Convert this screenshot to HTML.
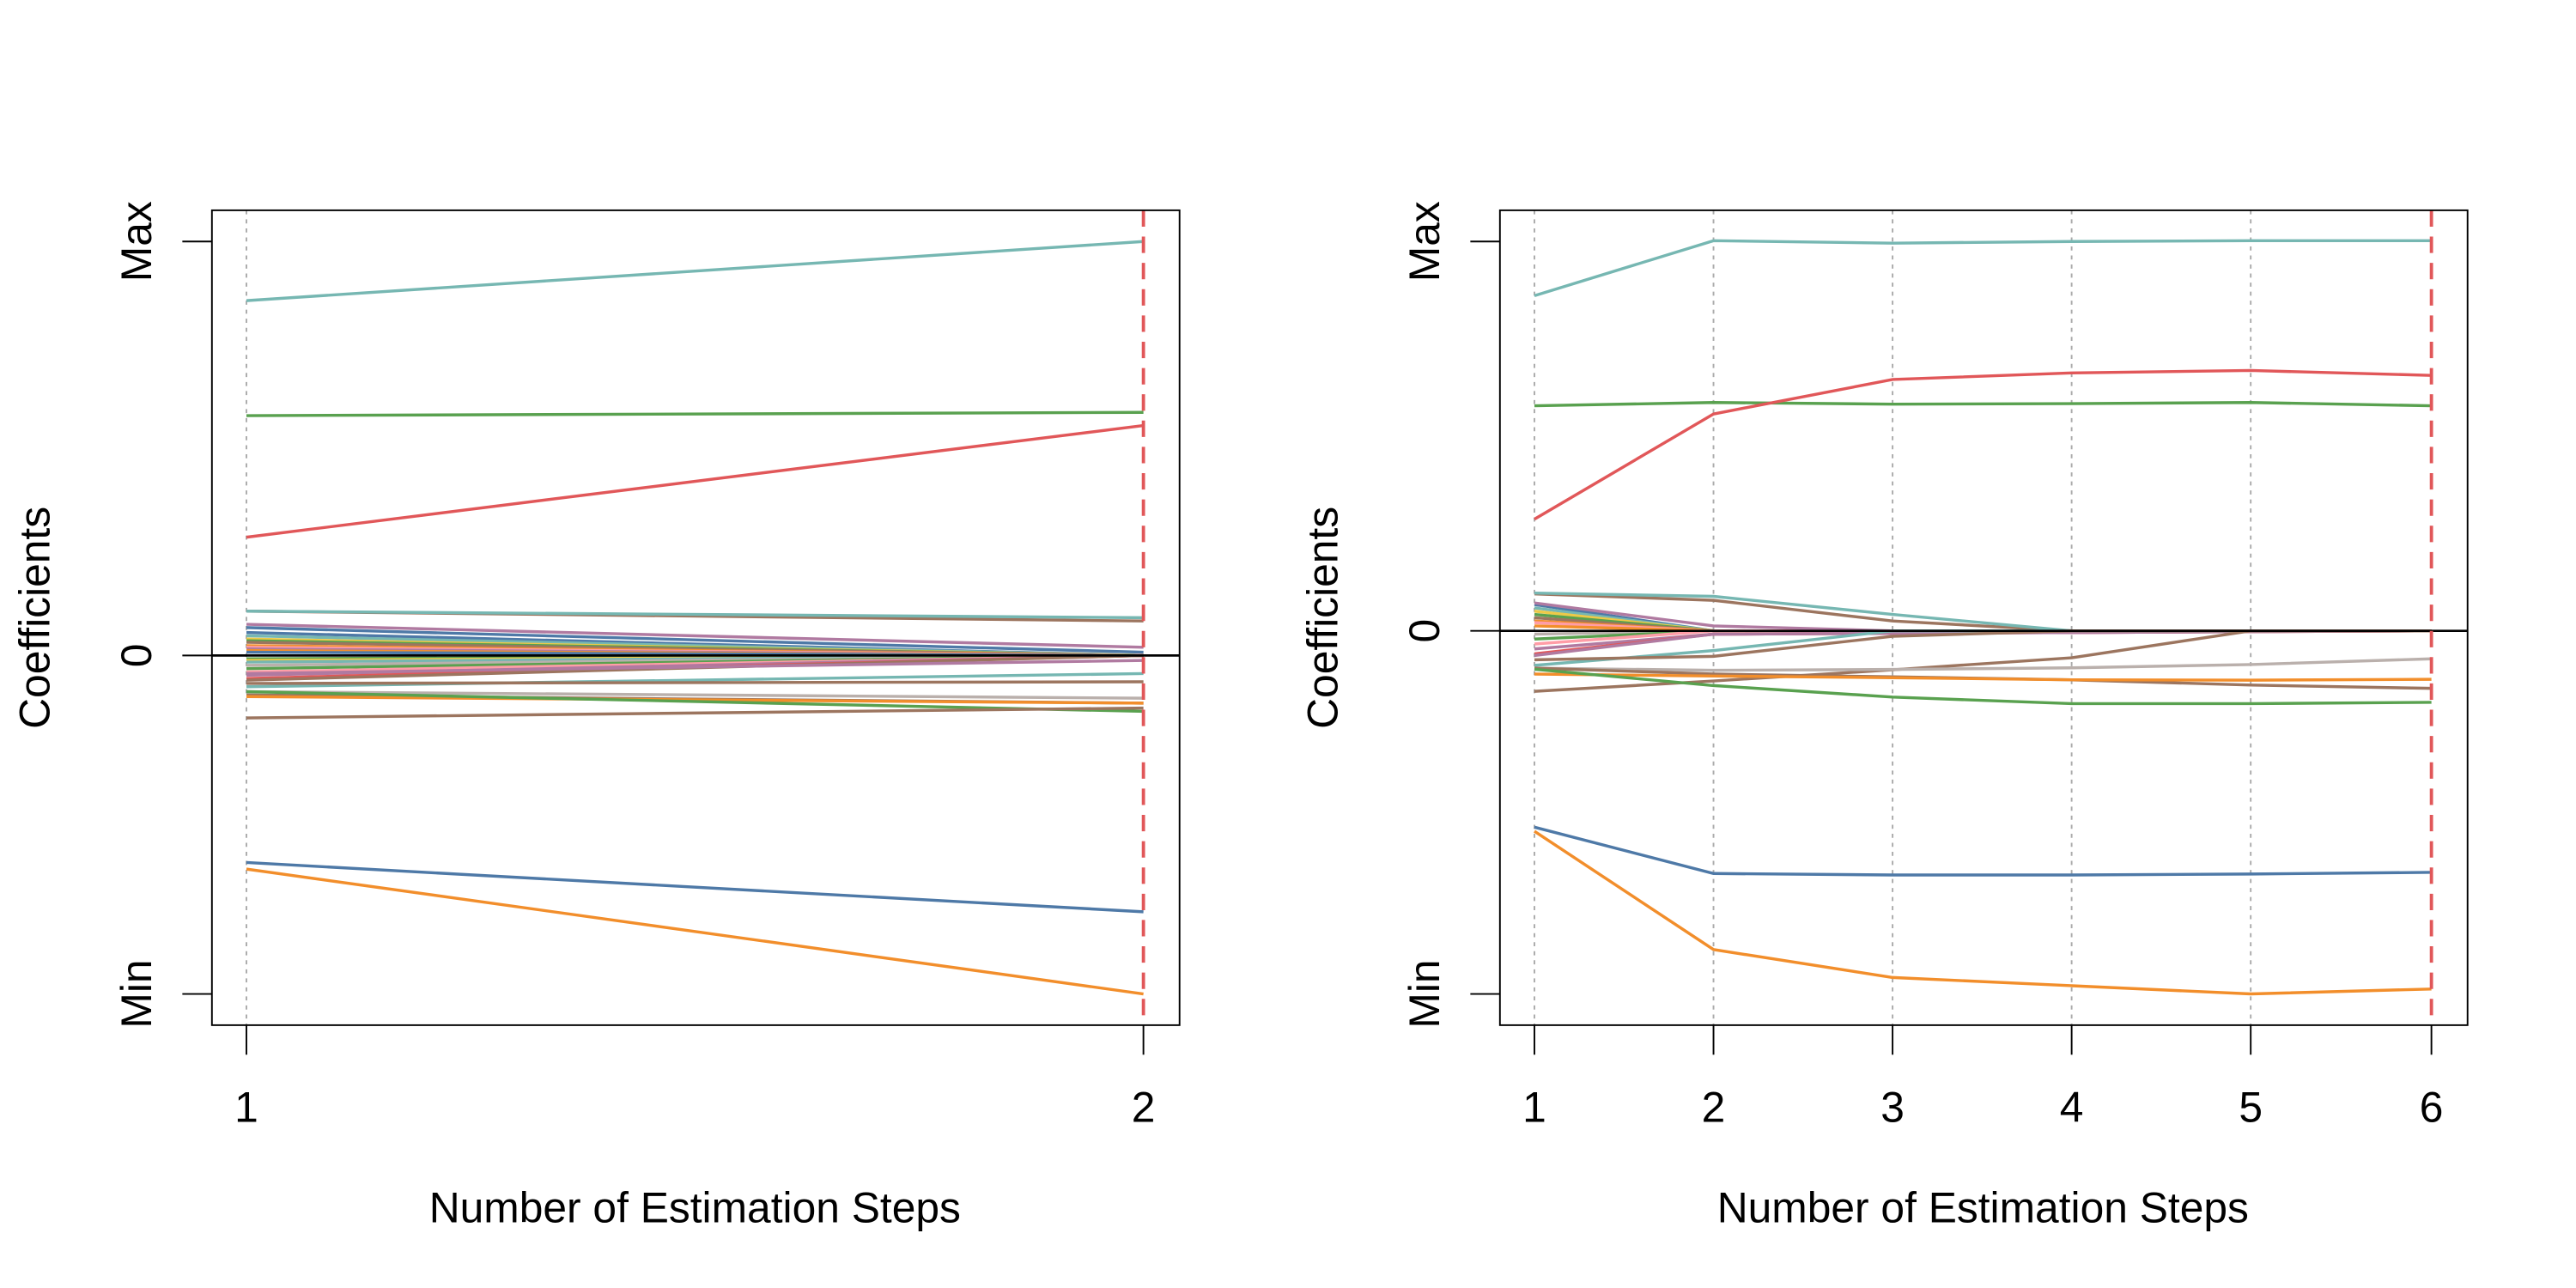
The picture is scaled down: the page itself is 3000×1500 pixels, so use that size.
<!DOCTYPE html>
<html><head><meta charset="utf-8"><style>
html,body{margin:0;padding:0;background:#fff;}
svg{display:block;}
text{font-family:"Liberation Sans",sans-serif;fill:#000;}
</style></head><body>
<svg width="3000" height="1500" viewBox="0 0 1568 784" xmlns="http://www.w3.org/2000/svg">
<!-- LEFT PANEL -->
<g fill="none" stroke-width="1.8">
<line x1="150" y1="128" x2="150" y2="624" stroke="#aaa" stroke-width="1" stroke-dasharray="2.5,3"/>
<g>
<line x1="150" y1="385" x2="696" y2="399" stroke="#4e79a7"/>
<line x1="150" y1="387" x2="696" y2="399" stroke="#76b7b2"/>
<line x1="150" y1="389" x2="696" y2="399" stroke="#edc948"/>
<line x1="150" y1="390" x2="696" y2="399" stroke="#59a14f"/>
<line x1="150" y1="391" x2="696" y2="399" stroke="#9c755f"/>
<line x1="150" y1="393" x2="696" y2="399" stroke="#f28e2b"/>
<line x1="150" y1="394" x2="696" y2="399" stroke="#ff9da7"/>
<line x1="150" y1="395" x2="696" y2="399" stroke="#b07aa1"/>
<line x1="150" y1="396" x2="696" y2="399" stroke="#f28e2b"/>
<line x1="150" y1="397" x2="696" y2="399" stroke="#4e79a7"/>
<line x1="150" y1="401" x2="696" y2="399" stroke="#59a14f"/>
<line x1="150" y1="402" x2="696" y2="399" stroke="#edc948"/>
<line x1="150" y1="403" x2="696" y2="399" stroke="#76b7b2"/>
<line x1="150" y1="405" x2="696" y2="399" stroke="#bab0ac"/>
<line x1="150" y1="407" x2="696" y2="399" stroke="#59a14f"/>
<line x1="150" y1="409" x2="696" y2="399" stroke="#ff9da7"/>
<line x1="150" y1="411" x2="696" y2="399" stroke="#b07aa1"/>
<line x1="150" y1="413" x2="696" y2="399" stroke="#e15759"/>
<line x1="150" y1="414" x2="696" y2="399" stroke="#9c755f"/>
<line x1="150" y1="410" x2="696" y2="402" stroke="#b07aa1"/>
<line x1="150" y1="372" x2="696" y2="378" stroke="#9c755f"/>
<line x1="150" y1="372" x2="696" y2="376" stroke="#76b7b2"/>
<line x1="150" y1="380" x2="696" y2="394" stroke="#b07aa1"/>
<line x1="150" y1="382" x2="696" y2="397" stroke="#4e79a7"/>
<line x1="150" y1="418" x2="696" y2="410" stroke="#76b7b2"/>
<line x1="150" y1="416" x2="696" y2="415" stroke="#9c755f"/>
<line x1="150" y1="421" x2="696" y2="425" stroke="#bab0ac"/>
<line x1="150" y1="423" x2="696" y2="428" stroke="#9c755f"/>
<line x1="150" y1="424" x2="696" y2="428" stroke="#f28e2b"/>
<line x1="150" y1="421" x2="696" y2="433" stroke="#59a14f"/>
<line x1="150" y1="437" x2="696" y2="431" stroke="#9c755f"/>
<line x1="150" y1="183" x2="696" y2="147" stroke="#76b7b2"/>
<line x1="150" y1="253" x2="696" y2="251" stroke="#59a14f"/>
<line x1="150" y1="327" x2="696" y2="259" stroke="#e15759"/>
<line x1="150" y1="525" x2="696" y2="555" stroke="#4e79a7"/>
<line x1="150" y1="529" x2="696" y2="605" stroke="#f28e2b"/>
</g>
<line x1="129" y1="399" x2="718" y2="399" stroke="#000" stroke-width="1.4"/>
<line x1="696" y1="128" x2="696" y2="624" stroke="#e15759" stroke-width="2" stroke-dasharray="10,6"/>
<rect x="129" y="128" width="589" height="496" stroke="#000" stroke-width="1"/>
<g stroke="#000" stroke-width="1">
<line x1="111" y1="147" x2="129" y2="147"/><line x1="111" y1="399" x2="129" y2="399"/><line x1="111" y1="605" x2="129" y2="605"/>
<line x1="150" y1="624" x2="150" y2="642"/><line x1="696" y1="624" x2="696" y2="642"/>
</g>
</g>
<g font-size="26" text-anchor="middle">
<text transform="translate(92,147) rotate(-90)">Max</text>
<text transform="translate(92,399) rotate(-90)">0</text>
<text transform="translate(92,605) rotate(-90)">Min</text>
<text transform="translate(30,376) rotate(-90)">Coefficients</text>
<text x="150" y="683">1</text><text x="696" y="683">2</text>
<text x="423" y="744">Number of Estimation Steps</text>
</g>

<!-- RIGHT PANEL -->
<g fill="none" stroke-width="1.8">
<g stroke="#aaa" stroke-width="1" stroke-dasharray="2.5,3">
<line x1="934" y1="128" x2="934" y2="624"/><line x1="1043" y1="128" x2="1043" y2="624"/><line x1="1152" y1="128" x2="1152" y2="624"/><line x1="1261" y1="128" x2="1261" y2="624"/><line x1="1370" y1="128" x2="1370" y2="624"/>
</g>
<g>
<polyline points="934,368 1043,384 1480,384" stroke="#4e79a7"/>
<polyline points="934,370 1043,384 1480,384" stroke="#76b7b2"/>
<polyline points="934,372 1043,384 1480,384" stroke="#edc948"/>
<polyline points="934,374 1043,384 1480,384" stroke="#59a14f"/>
<polyline points="934,376 1043,384 1480,384" stroke="#9c755f"/>
<polyline points="934,378 1043,384 1480,384" stroke="#f28e2b"/>
<polyline points="934,379 1043,384 1480,384" stroke="#ff9da7"/>
<polyline points="934,381 1043,384 1480,384" stroke="#f28e2b"/>
<polyline points="934,386 1043,384 1480,384" stroke="#bab0ac"/>
<polyline points="934,389 1043,384 1480,384" stroke="#59a14f"/>
<polyline points="934,392 1043,384 1480,384" stroke="#ff9da7"/>
<polyline points="934,395 1043,386 1480,384" stroke="#b07aa1"/>
<polyline points="934,398 1043,386 1480,384" stroke="#e15759"/>
<polyline points="934,399 1043,386 1480,384" stroke="#b07aa1"/>
<polyline points="934,367 1043,381 1152,384 1480,384" stroke="#b07aa1"/>
<polyline points="934,361.5 1043,365.4 1152,378 1261,384 1480,384" stroke="#9c755f"/>
<polyline points="934,361 1043,363 1152,374 1261,384 1480,384" stroke="#76b7b2"/>
<polyline points="934,405 1043,396 1152,384 1480,384" stroke="#76b7b2"/>
<polyline points="934,401.6 1043,399.5 1152,387.3 1261,384 1480,384" stroke="#9c755f"/>
<polyline points="934,420.8 1043,414.5 1152,407.7 1261,400.4 1370,384 1480,384" stroke="#9c755f"/>
<polyline points="934,406.7 1043,408 1152,407.5 1261,406.5 1370,404.5 1480,401" stroke="#bab0ac"/>
<polyline points="934,406.7 1043,410.3 1152,412 1261,413.8 1370,417 1480,419" stroke="#9c755f"/>
<polyline points="934,410.3 1043,411.5 1152,412.5 1261,413.8 1370,414 1480,413.5" stroke="#f28e2b"/>
<polyline points="934,407.4 1043,417.3 1152,424.3 1261,428.3 1370,428.3 1480,427.5" stroke="#59a14f"/>
<polyline points="934,180 1043,146.5 1152,148 1261,147 1370,146.5 1480,146.5" stroke="#76b7b2"/>
<polyline points="934,247 1043,245 1152,246 1261,245.7 1370,245 1480,247" stroke="#59a14f"/>
<polyline points="934,316 1043,252 1152,231 1261,227 1370,225.5 1480,228.5" stroke="#e15759"/>
<polyline points="934,503.5 1043,531.7 1152,532.6 1261,532.6 1370,532 1480,531" stroke="#4e79a7"/>
<polyline points="934,506 1043,578 1152,595 1261,600 1370,605 1480,602" stroke="#f28e2b"/>
</g>
<line x1="913" y1="384" x2="1502" y2="384" stroke="#000" stroke-width="1.4"/>
<line x1="1480" y1="128" x2="1480" y2="624" stroke="#e15759" stroke-width="2" stroke-dasharray="10,6"/>
<rect x="913" y="128" width="589" height="496" stroke="#000" stroke-width="1"/>
<g stroke="#000" stroke-width="1">
<line x1="895" y1="147" x2="913" y2="147"/><line x1="895" y1="384" x2="913" y2="384"/><line x1="895" y1="605" x2="913" y2="605"/>
<line x1="934" y1="624" x2="934" y2="642"/><line x1="1043" y1="624" x2="1043" y2="642"/><line x1="1152" y1="624" x2="1152" y2="642"/><line x1="1261" y1="624" x2="1261" y2="642"/><line x1="1370" y1="624" x2="1370" y2="642"/><line x1="1480" y1="624" x2="1480" y2="642"/>
</g>
</g>
<g font-size="26" text-anchor="middle">
<text transform="translate(876,147) rotate(-90)">Max</text>
<text transform="translate(876,384) rotate(-90)">0</text>
<text transform="translate(876,605) rotate(-90)">Min</text>
<text transform="translate(814,376) rotate(-90)">Coefficients</text>
<text x="934" y="683">1</text><text x="1043" y="683">2</text><text x="1152" y="683">3</text><text x="1261" y="683">4</text><text x="1370" y="683">5</text><text x="1480" y="683">6</text>
<text x="1207" y="744">Number of Estimation Steps</text>
</g>
</svg>
</body></html>
